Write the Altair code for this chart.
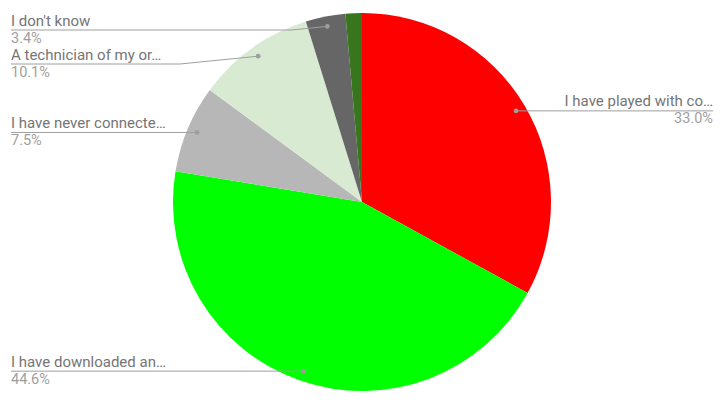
import math
import altair as alt
import pandas as pd

# ---- data ----
categories = ["I have played with co…", "I have downloaded an…", "I have never connecte…",
              "A technician of my or…", "I don't know", "Other"]
values = [33.0, 44.6, 7.5, 10.1, 3.4, 1.4]
pct_labels = ["33.0%", "44.6%", "7.5%", "10.1%", "3.4%", ""]
colors = ["#ff0000", "#00ff00", "#b7b7b7", "#d9ead3", "#666666", "#38761d"]

# ---- layout ----
W, H = 705, 384
CX, CY, R = 354, 194, 189
R_DOT = 179
LINE_C = "#9e9e9e"
NAME_C = "#757575"
PCT_C = "#9e9e9e"
FONT = "Roboto"

total = sum(values)
pie_df = pd.DataFrame({"category": categories, "value": values, "order": list(range(len(values)))})

# compute anchors from the slice mid-angles
anchors = []
cum = 0.0
for cat, v, p in zip(categories, values, pct_labels):
    mid = (cum + v / 2) / total * 2 * math.pi
    cum += v
    if not p:
        continue
    dx = CX + R_DOT * math.sin(mid)
    dy = CY - R_DOT * math.cos(mid)
    anchors.append({"category": cat, "pct": p, "dx": dx, "dy": dy,
                    "side": "right" if math.sin(mid) > 0 else "left"})

# label rows: avoid collisions on the left
left = sorted([a for a in anchors if a["side"] == "left"], key=lambda a: a["dy"])
prev = -1e9
for a in left:
    a["ly"] = max(a["dy"], prev + 34, 22)
    prev = a["ly"]
right = [a for a in anchors if a["side"] == "right"]
for a in right:
    a["ly"] = a["dy"]

line_rows = []
for a in left:
    knee = a["dx"] - 10 * abs(a["ly"] - a["dy"])
    line_rows += [
        {"key": a["category"], "seq": 0, "x": 3, "y": a["ly"]},
        {"key": a["category"], "seq": 1, "x": knee, "y": a["ly"]},
        {"key": a["category"], "seq": 2, "x": a["dx"], "y": a["dy"]},
    ]
for a in right:
    line_rows += [
        {"key": a["category"], "seq": 0, "x": a["dx"], "y": a["dy"]},
        {"key": a["category"], "seq": 1, "x": W, "y": a["ly"]},
    ]
line_df = pd.DataFrame(line_rows)
dot_df = pd.DataFrame([{"x": a["dx"], "y": a["dy"]} for a in anchors])

left_df = pd.DataFrame([{"name": a["category"], "pct": a["pct"], "x": 3,
                         "yn": a["ly"] - 4.5, "yp": a["ly"] + 12.5} for a in left])
right_df = pd.DataFrame([{"name": a["category"], "pct": a["pct"], "x": W,
                          "yn": a["ly"] - 4.5, "yp": a["ly"] + 12.5} for a in right])

xs = alt.Scale(domain=[0, W], range=[0, W], nice=False, zero=False)
ys = alt.Scale(domain=[0, H], range=[0, H], nice=False, zero=False)

pie = alt.Chart(pie_df).mark_arc(outerRadius=R).encode(
    theta=alt.Theta("value:Q", stack=True),
    order=alt.Order("order:Q"),
    color=alt.Color("category:N", scale=alt.Scale(domain=categories, range=colors), legend=None),
    x=alt.value(CX),
    y=alt.value(CY),
)

lines = alt.Chart(line_df).mark_line(color=LINE_C, strokeWidth=1).encode(
    x=alt.X("x:Q", scale=xs, axis=None),
    y=alt.Y("y:Q", scale=ys, axis=None),
    detail="key:N",
    order="seq:Q",
)

dots = alt.Chart(dot_df).mark_circle(color=LINE_C, size=22, opacity=1).encode(
    x=alt.X("x:Q", scale=xs, axis=None),
    y=alt.Y("y:Q", scale=ys, axis=None),
)

def text_layers(df, align):
    name = alt.Chart(df).mark_text(align=align, baseline="alphabetic", font=FONT, fontSize=15,
                                   color=NAME_C).encode(
        x=alt.X("x:Q", scale=xs, axis=None),
        y=alt.Y("yn:Q", scale=ys, axis=None),
        text="name:N",
    )
    pct = alt.Chart(df).mark_text(align=align, baseline="alphabetic", font=FONT, fontSize=14.5,
                                  color=PCT_C).encode(
        x=alt.X("x:Q", scale=xs, axis=None),
        y=alt.Y("yp:Q", scale=ys, axis=None),
        text="pct:N",
    )
    return [name, pct]

chart = alt.layer(
    pie, lines, dots, *text_layers(left_df, "left"), *text_layers(right_df, "right")
).properties(
    width=W, height=H, padding=0, autosize=alt.AutoSizeParams(type="none"), background="white"
).configure_view(stroke=None)

chart.save("out.html", embed_options={"renderer": "svg", "actions": False})
